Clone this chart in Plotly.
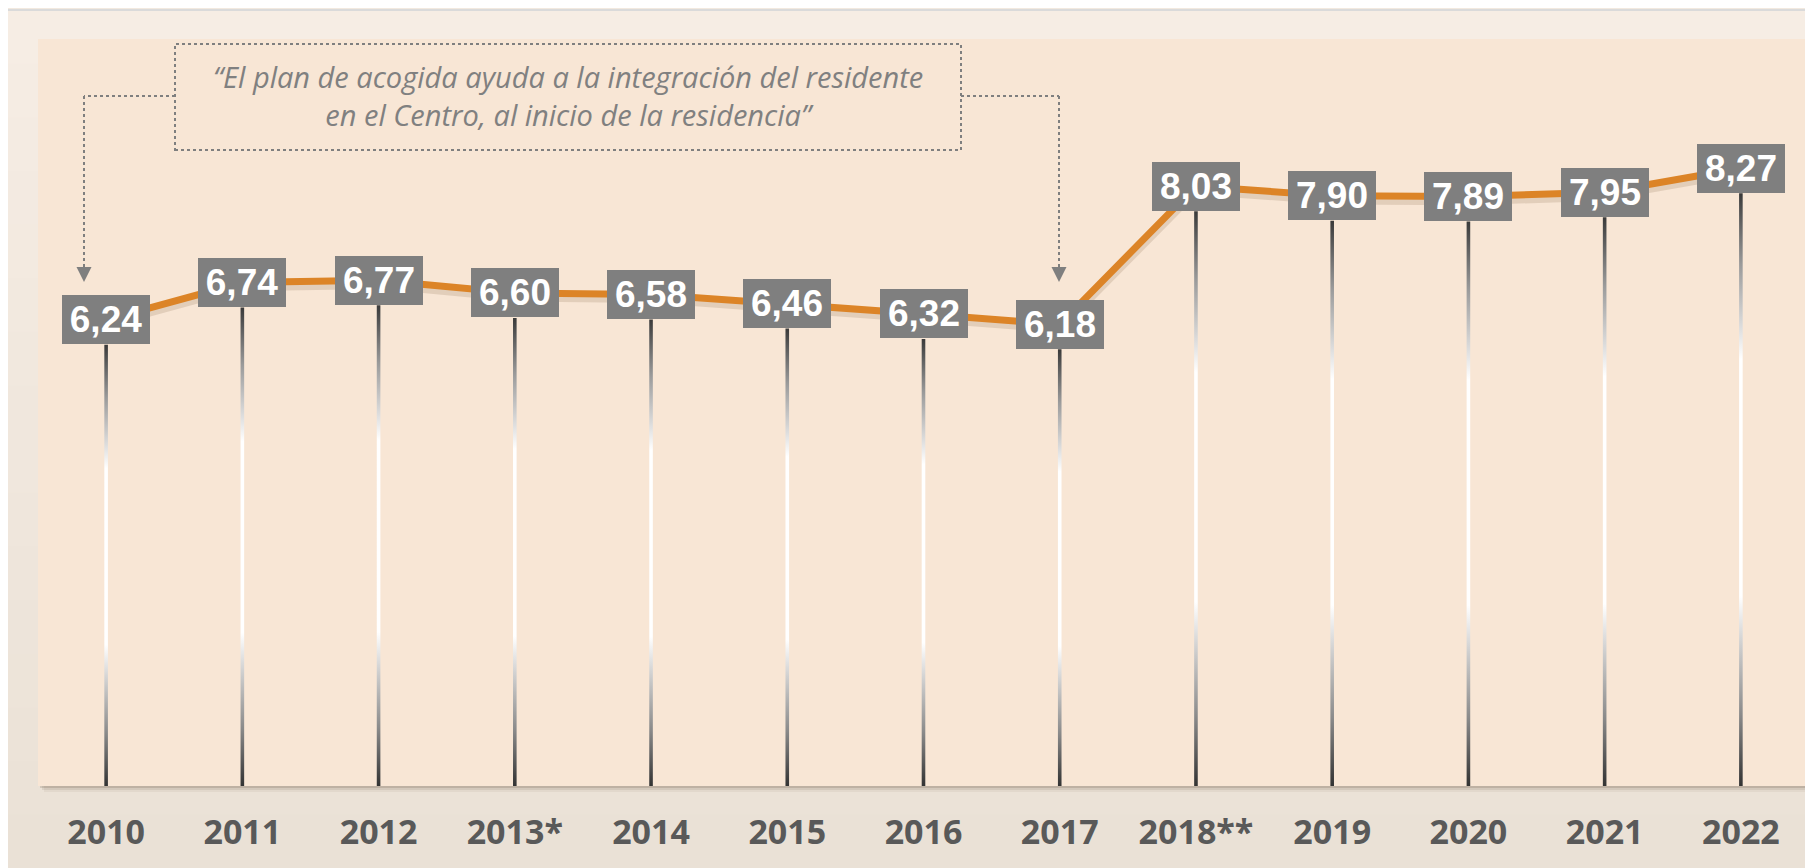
import plotly.graph_objects as go

# ---------------- data ----------------
categories = ["2010", "2011", "2012", "2013*", "2014", "2015", "2016",
              "2017", "2018**", "2019", "2020", "2021", "2022"]
values = [6.24, 6.74, 6.77, 6.60, 6.58, 6.46, 6.32, 6.18, 8.03, 7.90, 7.89, 7.95, 8.27]
quote_text = ("“El plan de acogida ayuda a la integración del residente<br>"
              "en el Centro, al inicio de la residencia”")

positions = list(range(len(categories)))

# ---------------- geometry (window pixel -> paper) ----------------
# page body has an 8px margin; figure occupies window 8..1813 x 8..868
W, H = 1805, 860
ML, MR, MT, MB = 30, 4, 31, 82
PW, PH = W - ML - MR, H - MT - MB
X0W, Y0W = 8 + ML, 8 + MT          # plot-area top-left in window pixels
Y1W = Y0W + PH                      # plot-area bottom in window pixels


def px(x):
    return (x - X0W) / PW


def py(y):
    return (Y1W - y) / PH


def lerp_col(c1, c2, t):
    return "rgb(%d,%d,%d)" % tuple(round(a + (b - a) * t) for a, b in zip(c1, c2))


fig = go.Figure()

# ---------------- drop lines (vertical gradient dark-white-dark) ----------------
box_half = 25 / (PH / 10)
half_w = 1.8 / (PW / len(categories))
drop_scale = [[0.0, "#333333"], [0.12, "#8a8a8a"], [0.32, "#ffffff"],
              [0.72, "#ffffff"], [0.88, "#9a9a9a"], [1.0, "#3a3a3a"]]
for p, v in zip(positions, values):
    top = v - box_half
    fig.add_trace(go.Scatter(
        x=[p - half_w, p + half_w, p + half_w, p - half_w, p - half_w],
        y=[0, 0, top, top, 0], mode="lines", fill="toself",
        line=dict(width=0),
        fillgradient=dict(type="vertical", colorscale=drop_scale, start=0, stop=top),
        hoverinfo="skip", showlegend=False))

# ---------------- line shadow + main line ----------------
fig.add_trace(go.Scatter(x=positions, y=[v - 0.055 for v in values], mode="lines",
                         line=dict(color="rgba(110,80,50,0.16)", width=9),
                         hoverinfo="skip", showlegend=False))
fig.add_trace(go.Scatter(x=positions, y=values, mode="lines",
                         line=dict(color="#dc8427", width=7),
                         hoverinfo="skip", showlegend=False))

# ---------------- data labels ----------------
annotations = []
for p, v in zip(positions, values):
    annotations.append(dict(
        x=p, y=v, xref="x", yref="y", showarrow=False,
        text=f"{v:.2f}".replace(".", ","),
        font=dict(family="Liberation Sans, Arial", size=37, color="white", weight="bold"),
        bgcolor="#7f7f7f", width=86, height=47, borderpad=1, borderwidth=0,
        xanchor="center", yanchor="middle"))

# quote text
annotations.append(dict(
    x=px(568), y=py(96), xref="paper", yref="paper", showarrow=False,
    text=quote_text, align="center",
    font=dict(family="Open Sans", size=29, color="#808080", style="italic"),
    xanchor="center", yanchor="middle"))

# ---------------- shapes (backgrounds & connectors) ----------------
shapes = []
# panel with vertical gradient
top_c, bot_c = (246, 237, 228), (234, 225, 214)
NB = 16
for i in range(NB):
    y0p = 10 + (868 - 10) * i / NB
    y1p = 10 + (868 - 10) * (i + 1) / NB
    shapes.append(dict(type="rect", xref="paper", yref="paper", layer="below",
                       x0=px(0), x1=px(1820), y0=py(y1p + 1), y1=py(y0p),
                       fillcolor=lerp_col(top_c, bot_c, (i + 0.5) / NB),
                       line=dict(width=0)))
# panel top border
shapes.append(dict(type="line", xref="paper", yref="paper", layer="below",
                   x0=px(0), x1=px(1820), y0=py(10), y1=py(10),
                   line=dict(color="#dadada", width=2)))
# plot-area shadow
for off, a in [(6, 0.06), (4, 0.10), (2, 0.16)]:
    shapes.append(dict(type="rect", xref="paper", yref="paper", layer="below",
                       x0=px(X0W + off), x1=px(X0W + PW + off), y0=py(Y1W + off), y1=py(Y0W + off),
                       fillcolor=f"rgba(80,60,40,{a})", line=dict(width=0)))
# plot area
shapes.append(dict(type="rect", xref="paper", yref="paper", layer="below",
                   x0=0, x1=1, y0=0, y1=1, fillcolor="#f8e6d5", line=dict(width=0)))

# dotted quote box
dot = dict(color="#7f7f7f", width=2, dash="dot")
shapes.append(dict(type="rect", xref="paper", yref="paper", layer="above",
                   x0=px(175), x1=px(961), y0=py(150), y1=py(44),
                   fillcolor="rgba(0,0,0,0)", line=dot))
# left connector
shapes.append(dict(type="line", xref="paper", yref="paper", x0=px(175), x1=px(84),
                   y0=py(96), y1=py(96), line=dot))
shapes.append(dict(type="line", xref="paper", yref="paper", x0=px(84), x1=px(84),
                   y0=py(96), y1=py(268), line=dot))
# right connector
shapes.append(dict(type="line", xref="paper", yref="paper", x0=px(961), x1=px(1059),
                   y0=py(96), y1=py(96), line=dot))
shapes.append(dict(type="line", xref="paper", yref="paper", x0=px(1059), x1=px(1059),
                   y0=py(96), y1=py(268), line=dot))
# arrow heads
for ax_ in (84, 1059):
    path = "M %f %f L %f %f L %f %f Z" % (px(ax_ - 7.5), py(267), px(ax_ + 7.5), py(267),
                                          px(ax_), py(282))
    shapes.append(dict(type="path", xref="paper", yref="paper", path=path,
                       fillcolor="#7f7f7f", line=dict(width=0)))

fig.update_layout(
    width=W, height=H,
    margin=dict(l=ML, r=MR, t=MT, b=MB, pad=0),
    paper_bgcolor="#f2e9df",
    plot_bgcolor="rgba(0,0,0,0)",
    showlegend=False,
    shapes=shapes,
    annotations=annotations,
    xaxis=dict(range=[-0.5, len(categories) - 0.5],
               tickvals=positions, ticktext=categories,
               showgrid=False, zeroline=False, showline=False, ticks="",
               ticklabelstandoff=23,
               tickfont=dict(family="Open Sans", size=34, color="#595959", weight="bold")),
    yaxis=dict(range=[0, 10], visible=False, showgrid=False, zeroline=False),
)

fig.write_html("out.html")
